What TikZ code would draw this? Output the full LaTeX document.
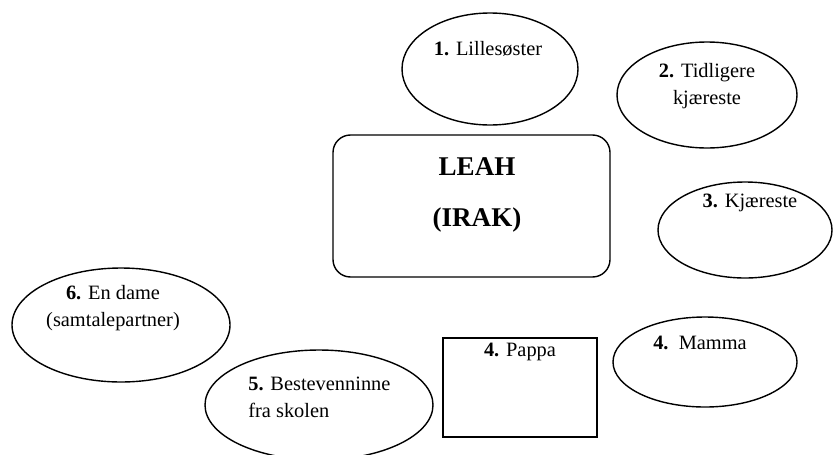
\documentclass[tikz,border=0pt]{standalone}
\usepackage{fontspec}
\setmainfont{Liberation Serif}
\usetikzlibrary{shapes.geometric}

\tikzset{
  bubble/.style={draw, ellipse, line width=0.8pt, inner sep=0pt},
  lbl/.style={align=center, inner sep=0pt, font=\fontsize{11.6}{15}\selectfont},
  hovedlbl/.style={inner sep=0pt, font=\fontsize{15.4}{18}\selectfont\bfseries}
}

\begin{document}
\begin{tikzpicture}
		%%%%% START %%%%%
		\clip (0, 0) rectangle (16.66, 9.08);
		
		% midten
		\node[draw, rounded corners=0.35cm, line width=0.8pt, minimum width=5.54cm, minimum height=2.84cm] (leah) at (9.43, 4.96) {};
		\node[hovedlbl] (leah-navn) at (9.54, 5.74) {LEAH};
		\node[hovedlbl] (leah-land) at (9.54, 4.68) {(IRAK)};
		
		% 1 og 2
		\node[bubble, minimum width=3.52cm, minimum height=2.24cm] (lillesoster) at (9.80, 7.70) {};
		\node[lbl] (lillesoster-txt) at (9.76, 8.10) {\textbf{1.} Lillesøster};
		
		\node[bubble, minimum width=3.6cm, minimum height=2.12cm] (tidligere) at (14.14, 7.18) {};
		\node[lbl] (tidligere-txt) at (14.14, 7.36) {\textbf{2.} Tidligere\\kjæreste};
		
		% 3 og 4
		\node[bubble, minimum width=3.48cm, minimum height=1.92cm] (kjaereste) at (14.90, 4.48) {};
		\node[lbl] (kjaereste-txt) at (15.0, 5.02) {\textbf{3.} Kjæreste};
		
		\node[bubble, minimum width=3.68cm, minimum height=1.8cm] (mamma) at (14.10, 1.84) {};
		\node[lbl] (mamma-txt) at (14.0, 2.22) {\textbf{4.}\ \ Mamma};
		
		\node[draw, line width=0.8pt, minimum width=3.08cm, minimum height=1.98cm] (pappa) at (10.40, 1.33) {};
		\node[lbl] (pappa-txt) at (10.40, 2.04) {\textbf{4.} Pappa};
		
		% 5 og 6
		\node[bubble, minimum width=4.56cm, minimum height=2.2cm] (bestevenn) at (6.38, 0.98) {};
		\node[lbl, align=left, anchor=west] (bestevenn-txt) at (4.96, 1.13) {\textbf{5.} Bestevenninne\\fra skolen};
		
		\node[bubble, minimum width=4.36cm, minimum height=2.28cm] (dame) at (2.42, 2.58) {};
		\node[lbl] (dame-txt) at (2.26, 2.92) {\textbf{6.} En dame\\(samtalepartner)};
		
		%%%%% END %%%%%
\end{tikzpicture}
\end{document}
